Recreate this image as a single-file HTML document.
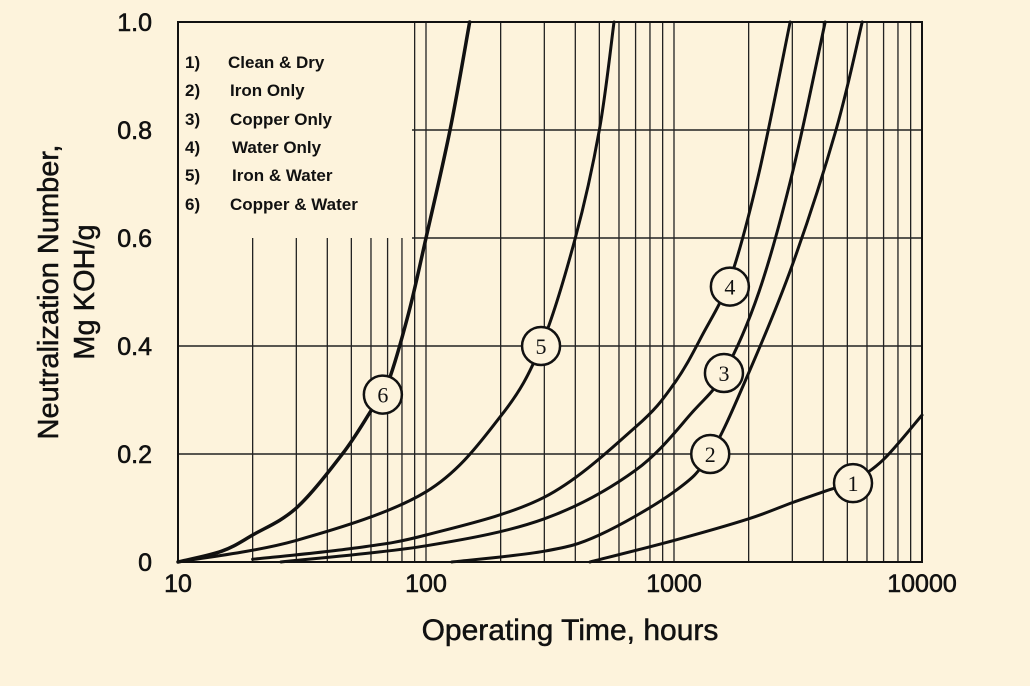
<!DOCTYPE html>
<html><head><meta charset="utf-8"><style>
html,body{margin:0;padding:0;background:#fdf3dc;}
svg{display:block;font-family:"Liberation Sans",sans-serif;}
</style></head><body>
<svg width="1030" height="686" viewBox="0 0 1030 686">
<rect x="0" y="0" width="1030" height="686" fill="#fdf3dc"/>
<g id="grid"></g>
<g id="axes"></g>
<g id="series"></g>
<g font-weight="bold" font-size="17" fill="#111">
<text x="185" y="68">1)</text><text x="228" y="68">Clean &amp; Dry</text>
<text x="185" y="96">2)</text><text x="230" y="96">Iron Only</text>
<text x="185" y="125">3)</text><text x="230" y="125">Copper Only</text>
<text x="185" y="153">4)</text><text x="232" y="153">Water Only</text>
<text x="185" y="181">5)</text><text x="232" y="181">Iron &amp; Water</text>
<text x="185" y="210">6)</text><text x="230" y="210">Copper &amp; Water</text>
</g>
<text x="570" y="640" text-anchor="middle" font-size="30" fill="#111" stroke="#111" stroke-width="0.5">Operating Time, hours</text>
<text transform="translate(58,292) rotate(-90)" text-anchor="middle" font-size="29" fill="#111" stroke="#111" stroke-width="0.5">Neutralization Number,</text>
<text transform="translate(94,292) rotate(-90)" text-anchor="middle" font-size="29" fill="#111" stroke="#111" stroke-width="0.5">Mg KOH/g</text>
</svg>
<script>
const xTicks=[10,100,1000,10000];
const xTickLabels=["10","100","1000","10000"];
const yTicks=[0,0.2,0.4,0.6,0.8,1.0];
const yTickLabels=["0","0.2","0.4","0.6","0.8","1.0"];
const seriesLabels=["1","2","3","4","5","6"];
const s1t=[458,1000,2000,3000,4000,5270,7000,10000];
const s1v=[0,0.04,0.08,0.11,0.13,0.15,0.19,0.272];
const s2t=[127,300,500,1000,1400,2000,3000,4500,5740];
const s2v=[0,0.02,0.05,0.13,0.2,0.35,0.55,0.8,1.0];
const s3t=[26,100,300,700,1200,1590,2200,3000,4070];
const s3v=[0,0.03,0.08,0.17,0.28,0.35,0.5,0.72,1.0];
const s4t=[20,50,100,300,700,1000,1300,1700,2200,2940];
const s4v=[0.005,0.025,0.05,0.12,0.25,0.33,0.42,0.53,0.72,1.0];
const s5t=[10,30,100,200,291,400,500,573];
const s5v=[0,0.04,0.13,0.27,0.4,0.6,0.8,1.0];
const s6t=[10,15,20,30,46,60,70,85,100,125,150];
const s6v=[0,0.02,0.05,0.1,0.2,0.28,0.33,0.46,0.6,0.8,1.0];
const labelT=[5270,1400,1590,1680,291,67];
const labelV=[0.146,0.2,0.35,0.51,0.4,0.31];

const X0=178,X1=922,Y0=562,Y1=22;
const xs=t=>X0+(X1-X0)*Math.log10(t/10)/3;
const ys=v=>Y0-(Y0-Y1)*v;
const NS="http://www.w3.org/2000/svg";
function mk(tag,parent,attrs){const e=document.createElementNS(NS,tag);for(const k in attrs)e.setAttribute(k,attrs[k]);parent.appendChild(e);return e;}
const grid=document.getElementById('grid');
for(let d=10;d<10000;d*=10){for(let m=1;m<=9;m++){const t=d*m;if(t===10)continue;const x=xs(t);const top=(x<412)?238:Y1;
const l=mk('line',grid,{x1:x,x2:x,y1:top,y2:Y0,stroke:'#222','stroke-width':1.3});

}}
yTicks.forEach(v=>{if(v===0||v===1)return;const x0=v>=0.6?412:X0;
const l=mk('line',grid,{x1:x0,x2:X1,y1:ys(v),y2:ys(v),stroke:'#222','stroke-width':1.5});

});
const axes=document.getElementById('axes');
const fr=mk('rect',axes,{x:X0,y:Y1,width:X1-X0,height:Y0-Y1,fill:'none',stroke:'#111','stroke-width':2});


xTicks.forEach((t,i)=>{const tx=mk('text',axes,{x:xs(t),y:592,'text-anchor':'middle','font-size':25,fill:'#111',stroke:'#111','stroke-width':0.6});tx.textContent=xTickLabels[i];

});
yTicks.forEach((v,i)=>{const tx=mk('text',axes,{x:152,y:ys(v)+9,'text-anchor':'end','font-size':25,fill:'#111',stroke:'#111','stroke-width':0.6});tx.textContent=yTickLabels[i];

});
const ser=document.getElementById('series');
const all=[[s1t,s1v],[s2t,s2v],[s3t,s3v],[s4t,s4v],[s5t,s5v],[s6t,s6v]];
function smoothPath(pts){let d=`M${pts[0][0]},${pts[0][1]}`;for(let i=0;i<pts.length-1;i++){const p0=pts[i-1]||pts[i],p1=pts[i],p2=pts[i+1],p3=pts[i+2]||p2;
d+=` C${p1[0]+(p2[0]-p0[0])/6},${p1[1]+(p2[1]-p0[1])/6} ${p2[0]-(p3[0]-p1[0])/6},${p2[1]-(p3[1]-p1[1])/6} ${p2[0]},${p2[1]}`;}return d;}
all.forEach((s,i)=>{const pts=s[0].map((t,j)=>[xs(t),ys(s[1][j])]);
const p=mk('path',ser,{d:smoothPath(pts),fill:'none',stroke:'#111','stroke-width':i===5?3.5:3,'stroke-linecap':'round'});

});
labelT.forEach((t,i)=>{const cx=xs(t),cy=ys(labelV[i]);
const c=mk('circle',ser,{cx:cx,cy:cy,r:19,fill:'#fdf3dc',stroke:'#111','stroke-width':2.5});


const tx=mk('text',ser,{x:cx,y:cy+8,'text-anchor':'middle','font-size':22,'font-family':'Liberation Serif, serif',fill:'#111'});tx.textContent=seriesLabels[i];

});
</script>
</body></html>
